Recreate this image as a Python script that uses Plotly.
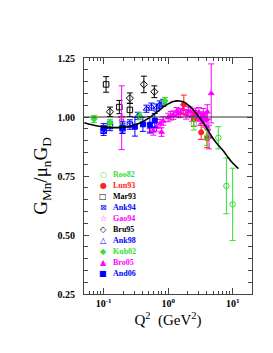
import plotly.graph_objects as go

# ---------------- data ----------------
roo82_q = [2.5, 4.0, 6.0, 8.0, 10.0]
roo82_v = [0.972, 0.915, 0.912, 0.708, 0.630]
roo82_e = [0.027, 0.035, 0.047, 0.118, 0.153]

lun93_q = [1.75, 2.5, 3.25, 4.0]
lun93_v = [1.053, 0.990, 0.935, 0.910]
lun93_e = [0.040, 0.030, 0.030, 0.040]

mar93_q = [0.109, 0.175, 0.255]
mar93_v = [1.138, 1.042, 1.030]
mar93_e = [0.033, 0.028, 0.028]

ank94_q = [0.100, 0.125, 0.196, 0.255]
ank94_v = [0.942, 0.962, 0.952, 0.968]
ank94_e = [0.020, 0.020, 0.020, 0.020]

gao94_q = [0.19]
gao94_v = [0.997]
gao94_e = [0.135]

bru95_q = [0.125, 0.255, 0.42, 0.61]
bru95_v = [1.022, 1.080, 1.138, 1.107]
bru95_e = [0.020, 0.022, 0.035, 0.025]

ank98_q = [0.34, 0.46, 0.55, 0.66, 0.74, 0.84]
ank98_v = [1.005, 1.035, 1.044, 1.040, 1.053, 1.060]
ank98_e = [0.015, 0.015, 0.015, 0.015, 0.015, 0.015]

kub02_q = [0.071, 0.125, 0.19, 0.365, 0.89]
kub02_v = [0.992, 0.975, 0.960, 1.003, 1.068]
kub02_e = [0.015, 0.015, 0.015, 0.015, 0.015]

bro05_q = [0.52, 0.59, 0.66, 0.75, 0.79, 0.84, 1.0, 1.1, 1.2, 1.35, 1.45, 1.55,
           1.7, 1.9, 2.05, 2.2, 2.35, 2.5, 2.65, 2.8, 3.0, 3.15, 3.3, 3.5, 3.7,
           3.9, 4.05, 4.15, 4.3, 4.65]
bro05_v = [0.955, 0.941, 0.958, 0.972, 0.936, 0.983, 0.998, 1.005, 1.008, 1.022,
           1.015, 1.018, 1.032, 1.011, 1.025, 1.022, 1.002, 1.008, 1.015, 1.004,
           1.018, 0.990, 0.997, 1.011, 0.985, 0.990, 1.022, 0.950, 0.915, 1.100]
bro05_e = [0.018, 0.018, 0.018, 0.018, 0.018, 0.018, 0.018, 0.018, 0.018, 0.018,
           0.018, 0.018, 0.020, 0.020, 0.020, 0.020, 0.020, 0.020, 0.022, 0.022,
           0.022, 0.025, 0.025, 0.025, 0.028, 0.030, 0.030, 0.040, 0.050, 0.125]

and06_q = [0.100, 0.196, 0.305, 0.406, 0.52, 0.62]
and06_v = [0.952, 0.955, 0.959, 0.969, 0.967, 0.985]
and06_e = [0.020, 0.025, 0.040, 0.030, 0.035, 0.030]

fit_q = [0.05, 0.08, 0.12, 0.17, 0.25, 0.35, 0.5, 0.7, 0.9, 1.2, 1.5, 1.8, 2.2,
         2.6, 3.0, 3.7, 4.2, 5.0, 6.0, 7.5, 8.5, 10.0, 12.3]
fit_v = [0.976, 0.962, 0.956, 0.955, 0.960, 0.972, 0.995, 1.025, 1.048, 1.066,
         1.068, 1.062, 1.043, 1.022, 1.000, 0.966, 0.941, 0.908, 0.880, 0.850,
         0.828, 0.805, 0.781]

x_tickvals = [0.1, 1, 10]
x_ticktext = ["10<sup>-1</sup>", "10<sup>0</sup>", "10<sup>1</sup>"]
y_tickvals = [0.25, 0.5, 0.75, 1.0, 1.25]
y_ticktext = ["0.25", "0.50", "0.75", "1.00", "1.25"]

GREEN = "#33e033"
RED = "#ff2020"
BLUE = "#0000ff"
MAG = "#ff00ff"
BLK = "#000000"

series = [
    ("Roo82", roo82_q, roo82_v, roo82_e, GREEN, "circle-open", "○"),
    ("Lun93", lun93_q, lun93_v, lun93_e, RED, "circle", "●"),
    ("Mar93", mar93_q, mar93_v, mar93_e, BLK, "square-open", "□"),
    ("Ank94", ank94_q, ank94_v, ank94_e, BLUE, "square-x-open", "⊠"),
    ("Gao94", gao94_q, gao94_v, gao94_e, MAG, "star-open", "☆"),
    ("Bru95", bru95_q, bru95_v, bru95_e, BLK, "diamond-open", "◇"),
    ("Ank98", ank98_q, ank98_v, ank98_e, BLUE, "triangle-up-open", "△"),
    ("Kub02", kub02_q, kub02_v, kub02_e, GREEN, "diamond", "◆"),
    ("Bro05", bro05_q, bro05_v, bro05_e, MAG, "triangle-up", "▲"),
    ("And06", and06_q, and06_v, and06_e, BLUE, "square", "■"),
]

fig = go.Figure()

# reference line at 1
fig.add_shape(type="line", xref="paper", x0=0, x1=1, yref="y", y0=1.0, y1=1.0,
              line=dict(color="#333333", width=1))

draw_order = ["Bro05", "Lun93", "Roo82", "Mar93", "Bru95", "Gao94", "Ank94",
              "Ank98", "Kub02", "And06"]
smap = {s[0]: s for s in series}
for nm in draw_order:
    name, q, v, e, col, sym, _ = smap[nm]
    size = 5.5 if "open" in sym else 5
    fig.add_trace(go.Scatter(
        x=q, y=v, mode="markers", name=name, showlegend=False,
        marker=dict(symbol=sym, size=size, color=col,
                    line=dict(color=col, width=1)),
        error_y=dict(type="data", array=e, visible=True, color=col,
                     thickness=1, width=3),
    ))

fig.add_trace(go.Scatter(x=fit_q, y=fit_v, mode="lines", showlegend=False,
                         line=dict(color="black", width=1.6, shape="spline")))

# legend drawn as text
L, R, T, B = 76, 244, 50, 286
W, H = R - L, B - T
for i, (name, q, v, e, col, sym, glyph) in enumerate(series):
    py = 166 + i * 11.1
    yp = (B - py) / H
    fig.add_annotation(xref="paper", yref="paper", x=(95 - L) / W, y=yp,
                       text=glyph, showarrow=False, xanchor="center",
                       yanchor="middle",
                       font=dict(family="DejaVu Sans", size=8, color=col))
    fig.add_annotation(xref="paper", yref="paper", x=(103 - L) / W, y=yp,
                       text="<b>" + name + "</b>", showarrow=False,
                       xanchor="left", yanchor="middle",
                       font=dict(family="Liberation Serif", size=8, color=col))

axis_common = dict(showline=True, linecolor="#444444", linewidth=1,
                   mirror="allticks", ticks="inside", showgrid=False,
                   zeroline=False, tickcolor="#444444")

fig.update_xaxes(type="log", range=[-1.305, 1.30],
                 tickmode="array", tickvals=x_tickvals, ticktext=x_ticktext,
                 ticklen=6,
                 tickfont=dict(family="Liberation Serif", size=10, color="black",
                               weight="bold"),
                 minor=dict(ticks="inside", ticklen=3, tickcolor="#444444",
                            dtick="D1", showgrid=False),
                 title=dict(text="Q<sup>2</sup>  (GeV<sup>2</sup>)",
                            font=dict(family="Liberation Serif", size=15,
                                      color="black"), standoff=6),
                 **axis_common)
fig.update_yaxes(range=[0.25, 1.25], tickmode="array", tickvals=y_tickvals,
                 ticktext=y_ticktext, ticklen=5,
                 tickfont=dict(family="Liberation Serif", size=10, color="black",
                               weight="bold"),
                 minor=dict(ticks="inside", ticklen=4, tickcolor="#444444",
                            dtick=0.05, showgrid=False),
                 title=dict(text="G<sub>Mn</sub>/μ<sub>n</sub>G<sub>D</sub>",
                            font=dict(family="Liberation Serif", size=19,
                                      color="black"), standoff=4),
                 ticklabelstandoff=6,
                 **axis_common)

fig.update_layout(width=273, height=353,
                  margin=dict(l=L, r=273 - R, t=T, b=353 - B),
                  paper_bgcolor="white", plot_bgcolor="white",
                  showlegend=False)

fig.write_html("out.html")
